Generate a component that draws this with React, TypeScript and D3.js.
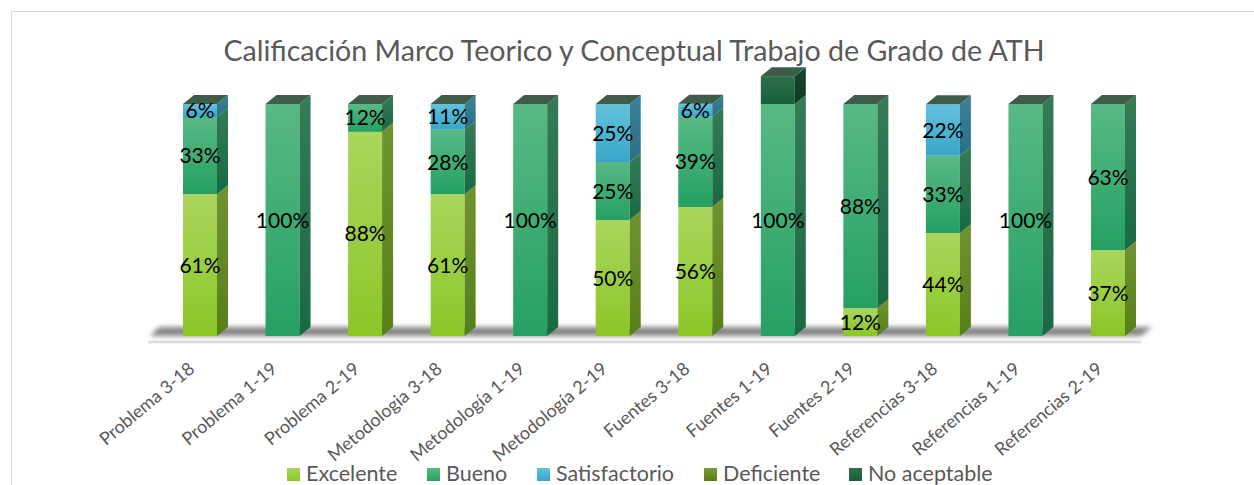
import React, { useRef, useEffect } from "react";
import * as d3 from "d3";

// categorías del eje X
const categories = [
  "Problema 3-18",
  "Problema 1-19",
  "Problema 2-19",
  "Metodologia 3-18",
  "Metodología 1-19",
  "Metodología 2-19",
  "Fuentes 3-18",
  "Fuentes 1-19",
  "Fuentes 2-19",
  "Referencias 3-18",
  "Referencias 1-19",
  "Referencias 2-19",
];

// porcentajes por serie
const excelente = [61.1, 0, 88, 61.1, 0, 50, 55.6, 0, 12, 44.4, 0, 37];
const bueno = [33.3, 100, 12, 27.8, 100, 25, 38.9, 100, 88, 33.3, 100, 63];
const satisfactorio = [5.6, 0, 0, 11.1, 0, 25, 5.6, 0, 0, 22.2, 0, 0];
const deficiente = [0, 0, 0, 0, 0, 0, 0, 0, 0, 0, 0, 0];
const noAceptable = [0, 0, 0, 0, 0, 0, 0, 12, 0, 0, 0, 0];

const seriesNames = ["Excelente", "Bueno", "Satisfactorio", "Deficiente", "No aceptable"];
const seriesValues = [excelente, bueno, satisfactorio, deficiente, noAceptable];
const showLabels = [true, true, true, true, false];

const title = "Calificación Marco Teorico y Conceptual Trabajo de Grado de ATH";

// colores: frente (claro, oscuro) y lateral (claro, oscuro)
const palette = [
  { front: ["#a9d65c", "#8cc628"], side: ["#6f9332", "#577f19"] },
  { front: ["#58b985", "#25a062"], side: ["#357b56", "#196942"] },
  { front: ["#64c1dd", "#38a6c8"], side: ["#3f8197", "#286f86"] },
  { front: ["#7a9e32", "#5a7d18"], side: ["#4f6b1c", "#3d5812"] },
  { front: ["#30704b", "#165f39"], side: ["#174430", "#0f3a23"] },
];
const topColor = "#3d5d49";

const font = "Lato, 'Open Sans', sans-serif";

const Chart = ({ width = 1254, height = 485 }) => {
  const svgRef = useRef(null);

  useEffect(() => {
    const svg = d3.select(svgRef.current);
    svg.selectAll("*").remove();
    svg.attr("width", width).attr("height", height).attr("viewBox", `0 0 ${width} ${height}`);

    const rows = categories.map((c, i) => {
      const r: any = { cat: c };
      seriesNames.forEach((s, j) => (r[s] = seriesValues[j][i] / 100));
      return r;
    });
    const stacked = d3.stack().keys(seriesNames)(rows);

    const x = d3.scalePoint().domain(categories).range([200, 1108]);
    const y = d3.scaleLinear().domain([0, 1]).range([336, 104]);
    const barW = 34;
    const dx = 11;
    const dy = 9;
    const step = x.step();

    // gradientes
    const defs = svg.append("defs");
    palette.forEach((p, i) => {
      ["front", "side"].forEach((k) => {
        const g = defs
          .append("linearGradient")
          .attr("id", `g-${k}-${i}`)
          .attr("x1", 0)
          .attr("y1", 0)
          .attr("x2", 0)
          .attr("y2", 1);
        g.append("stop").attr("offset", "0%").attr("stop-color", p[k][0]);
        g.append("stop").attr("offset", "100%").attr("stop-color", p[k][1]);
      });
    });
    defs
      .append("filter")
      .attr("id", "blur")
      .attr("x", "-5%")
      .attr("y", "-100%")
      .attr("width", "110%")
      .attr("height", "300%")
      .append("feGaussianBlur")
      .attr("stdDeviation", 2.5);

    // marco
    svg
      .append("rect")
      .attr("x", 11.5)
      .attr("y", 11.5)
      .attr("width", width)
      .attr("height", height)
      .attr("fill", "none")
      .attr("stroke", "#d9d9d9");

    // título
    svg
      .append("text")
      .attr("x", 634)
      .attr("y", 61)
      .attr("text-anchor", "middle")
      .attr("font-family", font)
      .attr("font-size", 28.6)
      .attr("fill", "#595959")
      .text(title);

    // piso
    const fl = x(categories[0]) - step * 0.63;
    const fr = x(categories[categories.length - 1]) + step * 0.4;
    const base = y(0);
    svg
      .append("line")
      .attr("x1", fl)
      .attr("x2", fr)
      .attr("y1", base + 6)
      .attr("y2", base + 6)
      .attr("stroke", "#dcdcdc")
      .attr("stroke-width", 2.5);
    svg
      .append("polygon")
      .attr(
        "points",
        [
          [fl + 2, base],
          [fl + dx, base - dy],
          [fr + dx, base - dy],
          [fr, base],
        ]
          .map((p) => p.join(","))
          .join(" ")
      )
      .attr("fill", "#666")
      .attr("opacity", 0.8)
      .attr("filter", "url(#blur)");

    // barras
    const bars = svg.append("g");
    categories.forEach((c, i) => {
      const x0 = x(c) - barW / 2;
      const x1 = x0 + barW;
      let topY = null;
      stacked.forEach((layer, j) => {
        const d = layer[i];
        if (d[1] - d[0] <= 0) return;
        const yb = y(d[0]);
        const yt = y(d[1]);
        bars
          .append("rect")
          .attr("x", x0)
          .attr("y", yt)
          .attr("width", barW)
          .attr("height", yb - yt)
          .attr("fill", `url(#g-front-${j})`);
        bars
          .append("polygon")
          .attr(
            "points",
            [
              [x1, yt],
              [x1 + dx, yt - dy],
              [x1 + dx, yb - dy],
              [x1, yb],
            ]
              .map((p) => p.join(","))
              .join(" ")
          )
          .attr("fill", `url(#g-side-${j})`);
        topY = yt;
      });
      if (topY !== null) {
        bars
          .append("polygon")
          .attr(
            "points",
            [
              [x0, topY],
              [x0 + dx, topY - dy],
              [x1 + dx, topY - dy],
              [x1, topY],
            ]
              .map((p) => p.join(","))
              .join(" ")
          )
          .attr("fill", topColor);
      }
    });

    // etiquetas de datos
    const labels = svg.append("g").attr("font-family", font).attr("font-size", 21).attr("fill", "#000");
    stacked.forEach((layer, j) => {
      if (!showLabels[j]) return;
      layer.forEach((d, i) => {
        const v = seriesValues[j][i];
        if (v <= 0) return;
        labels
          .append("text")
          .attr("x", x(categories[i]))
          .attr("y", (y(d[0]) + y(d[1])) / 2)
          .attr("dy", "0.36em")
          .attr("text-anchor", "middle")
          .text(`${Math.round(v)}%`);
      });
    });

    // eje X
    const axis = svg
      .append("g")
      .attr("transform", `translate(0,361)`)
      .call(d3.axisBottom(x).tickSize(0));
    axis.select(".domain").remove();
    axis
      .selectAll("text")
      .attr("x", 0)
      .attr("y", 0)
      .attr("dy", "0.71em")
      .attr("text-anchor", "end")
      .attr("transform", "translate(-13,0) rotate(-40)")
      .attr("font-family", font)
      .attr("font-size", 18)
      .attr("fill", "#595959");

    // leyenda
    const legendX = [287, 427, 537, 704, 849];
    const legend = svg.append("g").attr("font-family", font).attr("font-size", 21.5).attr("fill", "#595959");
    seriesNames.forEach((s, j) => {
      legend
        .append("rect")
        .attr("x", legendX[j])
        .attr("y", 468)
        .attr("width", 13)
        .attr("height", 13)
        .attr("fill", `url(#g-front-${j})`);
      legend
        .append("text")
        .attr("x", legendX[j] + 19)
        .attr("y", 481)
        .text(s);
    });
  }, [width, height]);

  return <svg ref={svgRef} style={{ position: "absolute", left: 0, top: 0 }} />;
};

export default function App() {
  return (
    <div style={{ width: 1254, height: 485, overflow: "hidden" }}>
      <Chart />
    </div>
  );
}
